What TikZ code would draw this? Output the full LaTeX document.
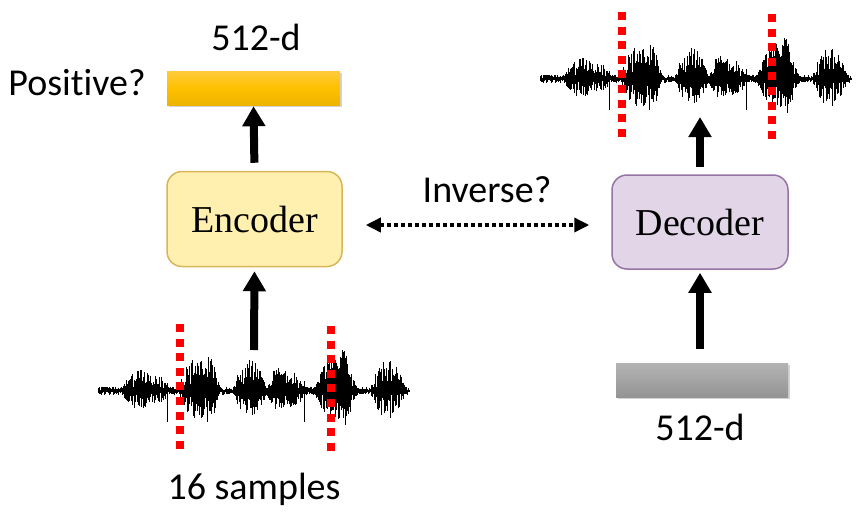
\documentclass[tikz,border=0pt]{standalone}
\usepackage{fontspec}
\setmainfont{Liberation Serif}
\newfontfamily\calfont[Ligatures={NoCommon,NoContextual}]{Carlito}
\usetikzlibrary{arrows.meta,shadows,shapes.misc}
\definecolor{encfill}{HTML}{FFF0B0}
\definecolor{encdraw}{HTML}{D6B656}
\definecolor{decfill}{HTML}{E1D5E7}
\definecolor{decdraw}{HTML}{9673A6}
\definecolor{orTop}{HTML}{FFCB3C}
\definecolor{orMid}{HTML}{FFC000}
\definecolor{orBot}{HTML}{EDB300}
\definecolor{grTop}{HTML}{B4B4B4}
\definecolor{grBot}{HTML}{949494}
\definecolor{redq}{HTML}{FF0000}
\tikzset{
  lbl/.style={font=\calfont\fontsize{38}{40}\selectfont, inner sep=0pt, anchor=base},
  boxnode/.style={rounded corners=15pt, line width=1.5pt, minimum width=175pt, minimum height=95pt, font=\fontsize{38}{40}\selectfont},
  barnode/.style={minimum width=173pt, minimum height=34pt, inner sep=0pt, drop shadow={opacity=0.35, shadow xshift=1.5pt, shadow yshift=-2pt}},
  bigarrow/.style={line width=8pt, -{Triangle[width=22pt,length=20pt]}},
  dotarrow/.style={line width=3.5pt, dash pattern=on 4pt off 3pt, {Triangle[width=14pt,length=15pt]}-{Triangle[width=14pt,length=15pt]}},
  reddots/.style={draw=redq, line width=8pt, dash pattern=on 8pt off 6.6pt},
  wv/.style={line width=0.8pt, black}
}
\newcommand\drawwave[2]{%
\begin{scope}[shift={(#1,#2)}]
\pgfmathsetseed{2718}
\draw[line width=1.8pt] (0,0) -- (312,0);
\foreach \i in {0,...,519}{%
 \pgfmathsetmacro\xx{\i*0.6}%
 \pgfmathsetmacro\ee{4.5+17*max(0,1-((\xx-42)/18)^2)+10*max(0,1-((\xx-62)/8)^2)+30*max(0,1-((\xx-100)/19)^2)+16*max(0,1-((\xx-114)/8)^2)+28*max(0,1-((\xx-152)/16)^2)+20*max(0,1-((\xx-182)/13)^2)+14*max(0,1-((\xx-198)/8)^2)+32*max(0,1-((\xx-238)/21)^2)+12*max(0,1-((\xx-247)/6)^2)+28*max(0,1-((\xx-290)/17)^2)}%
 \pgfmathsetmacro\uu{\ee*(0.2+0.8*rnd)}%
 \pgfmathsetmacro\dd{\ee*(0.15+0.85*rnd)*0.85}%
 \draw[wv] (\xx,-\uu) -- (\xx,\dd);
}
\draw[wv] (69,-8) -- (69,31);
\draw[wv] (206,-10) -- (206,31);
\end{scope}}
\begin{document}
\begin{tikzpicture}[x=1pt,y=-1pt]
\useasboundingbox (0,0) rectangle (861,512);
% boxes
\node[boxnode, draw=encdraw, fill=encfill] (enc) at (254.5,219) {Encoder};
\node[boxnode, draw=decdraw, fill=decfill, minimum width=176pt, minimum height=94pt] (dec) at (700,222) {Decoder};
% bars
\node[barnode, top color=orTop, bottom color=orBot, middle color=orMid] (bar) at (253.5,88) {};
\node[barnode, top color=grTop, bottom color=grBot, minimum width=172pt] (grey) at (702,380) {};
% labels
\node[lbl] (d1) at (256,50) {512-d};
\node[lbl] (pos) at (77,95) {Posit\kern0pt ive?};
\node[lbl] (inv) at (487,202) {Inverse?};
\node[lbl] (d2) at (700,440) {512-d};
\node[lbl] (samp) at (254,499) {16 samples};
% waveforms
\drawwave{98}{391}
\drawwave{540}{79}
\draw[reddots] (180,324) -- (180,449);
\draw[reddots] (331,326) -- (331,451);
\draw[reddots] (622,12) -- (622,137);
\draw[reddots] (772,14) -- (772,139);
% anchor coordinates for waveforms
\coordinate (w1top) at (254,350);
\coordinate (w2bot) at (700,117);
% arrows
\draw[bigarrow, shorten <=8pt, shorten >=1pt] (enc.north) -- (bar.south);
\draw[bigarrow, shorten >=4pt] (w1top) -- (enc.south);
\draw[bigarrow, shorten <=7pt] (dec.north) -- (w2bot);
\draw[bigarrow, shorten <=14pt, shorten >=3pt] (grey.north -| dec.south) -- (dec.south);
\draw[dotarrow] ([xshift=23pt]enc.east |- 0,225) -- ([xshift=-22pt]dec.west |- 0,225);
\end{tikzpicture}
\end{document}
